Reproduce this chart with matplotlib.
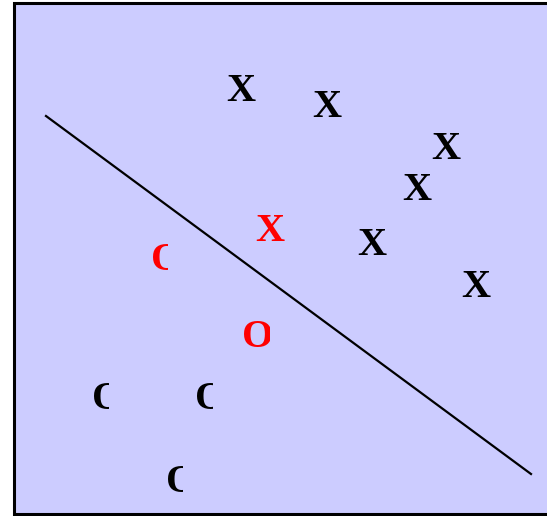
import matplotlib
matplotlib.use("Agg")
import matplotlib.pyplot as plt
from matplotlib.patches import Rectangle

# X markers (pixel-like data coordinates, y = baseline)
x_black_x = [241, 327, 446, 417, 372, 476]
x_black_y = [101, 117, 159, 200, 255, 297]
x_red_x = [270]
x_red_y = [241]

# O markers: left edge, baseline y, visible right edge (glyphs are cut off)
o_left = [152, 243, 93, 196, 167]
o_y = [270, 347, 409, 409, 492]
o_right = [168, 270, 109, 213, 183]
o_color = ["red", "red", "black", "black", "black"]

# separating line
line_x = [46, 531]
line_y = [116, 474]

W, H = 547, 516
fig = plt.figure(figsize=(W / 100, H / 100), dpi=100)
ax = fig.add_axes([0, 0, 1, 1])
ax.set_xlim(0, W)
ax.set_ylim(H, 0)
ax.axis("off")

ax.add_patch(Rectangle((14, 3), 560, 511, facecolor="#CCCCFF",
                       edgecolor="black", linewidth=2.2, zorder=0))

ax.plot(line_x, line_y, color="black", linewidth=1.6, zorder=2)

font = dict(family="Liberation Serif", fontsize=29, fontweight="bold")
for x, y in zip(x_black_x, x_black_y):
    ax.text(x, y, "X", color="black", ha="center", va="baseline", **font)
for x, y in zip(x_red_x, x_red_y):
    ax.text(x, y, "X", color="red", ha="center", va="baseline", **font)

for xl, y, xr, c in zip(o_left, o_y, o_right, o_color):
    t = ax.text(xl - 1, y, "O", color=c, ha="left", va="baseline", **font)
    clip = Rectangle((xl - 5, y - 40), (xr - xl) + 5, 50, transform=ax.transData,
                     visible=False)
    ax.add_patch(clip)
    t.set_clip_on(True)
    t.set_clip_path(clip)

fig.savefig("out.png", dpi=100)
